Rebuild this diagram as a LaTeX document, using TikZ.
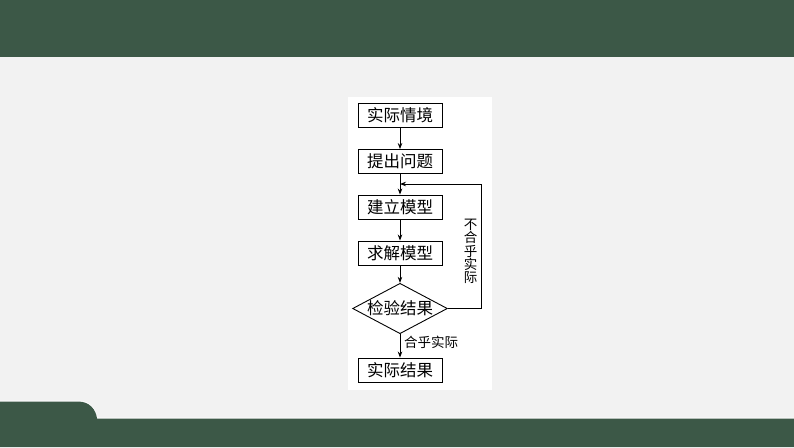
\documentclass[tikz,border=0pt]{standalone}
\usepackage{fontspec}
\newfontfamily\cjk{Noto Sans CJK SC}
\usetikzlibrary{shapes.geometric,arrows.meta}
\definecolor{band}{HTML}{3C5847}
\definecolor{bg}{HTML}{F2F2F2}
\begin{document}
\begin{tikzpicture}[x=1pt,y=-1pt,
  stepbox/.style={draw,line width=0.9pt,fill=white,minimum width=84pt,minimum height=24pt,inner sep=0pt,font=\cjk\fontsize{16.5}{18}\selectfont},
  testbox/.style={draw,diamond,aspect=1.88,line width=0.9pt,fill=white,minimum width=92pt,minimum height=49pt,inner sep=0pt,font=\cjk\fontsize{16.5}{18}\selectfont},
  flow/.style={line width=0.8pt,-{Stealth[length=6pt,width=4.5pt]}},
  lbl/.style={font=\cjk\fontsize{13.5}{14}\selectfont,inner sep=0pt}]
\useasboundingbox (0,0) rectangle (794,447);
\fill[bg] (0,0) rectangle (794,447);
\fill[band] (0,0) rectangle (794,57);
\draw[white,line width=1pt] (0,401) -- (78,401) .. controls (90,401) and (96,410) .. (97,418) -- (794,418);
\fill[band] (0,401.5) -- (78,401.5) .. controls (90,401.5) and (96,410) .. (97,418.5) -- (794,418.5) -- (794,447) -- (0,447) -- cycle;
\fill[white] (348,97) rectangle (492,390);
\node[stepbox] (a) at (400,115) {实际情境};
\node[stepbox] (b) at (400,161.5) {提出问题};
\node[stepbox] (c) at (400,207) {建立模型};
\node[stepbox] (d) at (400,253) {求解模型};
\node[testbox] (e) at (400,308.5) {检验结果};
\node[stepbox] (f) at (400,370) {实际结果};
\coordinate (j) at (400,184);
\coordinate (r1) at (481,308.5);
\coordinate (r2) at (481,184);
\draw[flow] (a) -- (b);
\draw[flow] (b) -- (c);
\draw[flow] (c) -- (d);
\draw[flow] (d) -- (e);
\draw[flow] (e) -- (f);
\draw[flow] (e.east) -- (r1) -- (r2) -- (j);
\node[lbl,align=center,font=\cjk\fontsize{13.5}{13.4}\selectfont] (n) at (470.5,251.5) {不\\合\\乎\\实\\际};
\node[lbl,anchor=west] (y) at (404,342) {合乎实际};
\end{tikzpicture}
\end{document}
